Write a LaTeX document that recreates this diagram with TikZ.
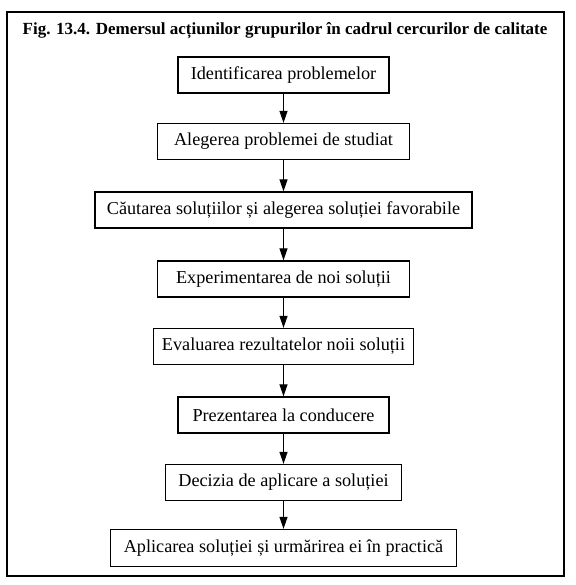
\documentclass[tikz,border=0pt]{standalone}
\usepackage{fontspec}
\setmainfont{Liberation Serif}
\usetikzlibrary{arrows.meta}
\begin{document}
\begin{tikzpicture}[x=1pt,y=-1pt,
  stepbox/.style={draw,line width=1.3pt,inner sep=0pt,minimum height=36pt,font=\fontsize{18.2}{21}\selectfont},
  flow/.style={line width=1.1pt,-{Triangle[length=12pt,width=8pt]}}]
\useasboundingbox (0,0) rectangle (575,585);
\draw[line width=1.3pt] (7,12) rectangle (564,576);
\draw[line width=2pt] (7,576) -- (564,576);
\node[font=\bfseries\fontsize{17}{20}\selectfont] (title) at (285,31) {Fig. 13.4. Demersul acțiunilor grupurilor în cadrul cercurilor de calitate};
\node[stepbox,minimum width=211pt] (b1) at (283.5,75) {Identificarea problemelor};
\node[stepbox,minimum width=252pt] (b2) at (283.5,141.5) {Alegerea problemei de studiat};
\node[stepbox,minimum width=377pt] (b3) at (283.5,210) {Căutarea soluțiilor și alegerea soluției favorabile};
\node[stepbox,minimum width=252pt] (b4) at (283.5,279) {Experimentarea de noi soluții};
\node[stepbox,minimum width=260pt] (b5) at (283.5,346.5) {Evaluarea rezultatelor noii soluții};
\node[stepbox,minimum width=211pt] (b6) at (283.5,415) {Prezentarea la conducere};
\node[stepbox,minimum width=236pt] (b7) at (283.5,482.5) {Decizia de aplicare a soluției};
\node[stepbox,minimum width=346pt,minimum height=37pt] (b8) at (283.5,548) {Aplicarea soluției și urmărirea ei în practică};
\foreach \a/\b in {b1/b2,b2/b3,b3/b4,b4/b5,b5/b6,b6/b7,b7/b8}
  \draw[flow] (\a.south) -- (\b.north);
\end{tikzpicture}
\end{document}
